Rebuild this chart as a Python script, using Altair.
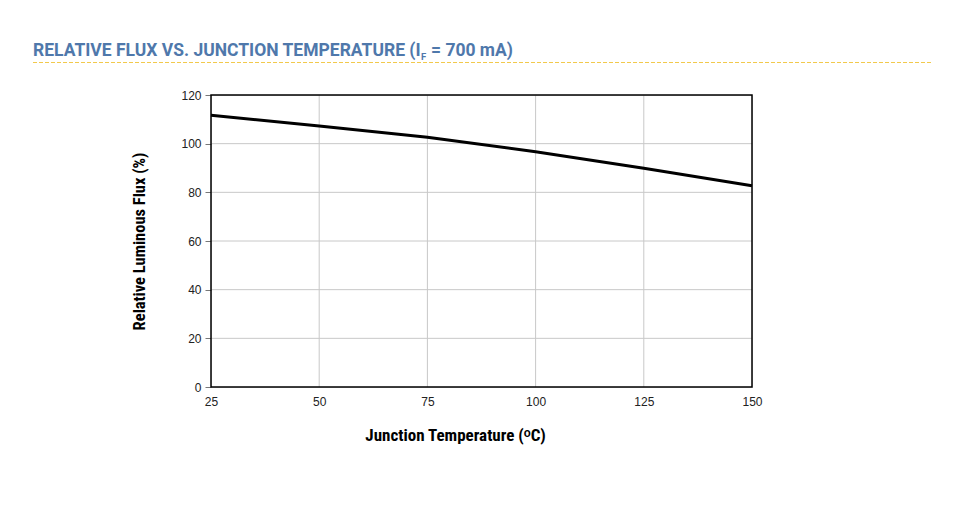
import altair as alt
import pandas as pd

temps = [25, 50, 75, 100, 125, 150]
flux = [111.7, 107.3, 102.6, 96.7, 89.9, 82.7]

x_ticks = [25, 50, 75, 100, 125, 150]
y_ticks = [0, 20, 40, 60, 80, 100, 120]
x_grid = [50, 75, 100, 125]
y_grid = [20, 40, 60, 80, 100]

title_main = "RELATIVE FLUX VS. JUNCTION TEMPERATURE (I"
title_sub = "F"
title_rest = "= 700 mA)"
x_title = "Junction Temperature (\u1d52C)"
y_title = "Relative Luminous Flux (%)"

df = pd.DataFrame({"temp": temps, "flux": flux})

W, H = 541, 292
LABEL_FONT = "Liberation Sans"
TITLE_FONT = "Liberation Sans Narrow, Roboto Condensed, Liberation Sans"
TITLE_COLOR = "#4f78ab"

xscale = alt.Scale(domain=[25, 150], nice=False, zero=False)
yscale = alt.Scale(domain=[0, 120], nice=False)

line = alt.Chart(df).mark_line(color="black", strokeWidth=3).encode(
    x=alt.X("temp:Q", scale=xscale,
            axis=alt.Axis(values=x_ticks, title=x_title, grid=False, ticks=False,
                          labelFontSize=12, labelFont=LABEL_FONT, labelColor="#222",
                          labelPadding=9, labelFlush=False, titleFont=TITLE_FONT,
                          titleFontSize=17, titleFontWeight="bold", titleColor="black",
                          titlePadding=20, titleX=244, titleAlign="center",
                          domain=False)),
    y=alt.Y("flux:Q", scale=yscale,
            axis=alt.Axis(values=y_ticks, title=y_title, grid=False, tickSize=6,
                          tickColor="#777", labelFontSize=12, labelFont=LABEL_FONT,
                          labelColor="#222", labelPadding=4, labelFlush=False,
                          titleFont=TITLE_FONT, titleFontSize=16.5, titleFontWeight="bold",
                          titleColor="black", titlePadding=33, domain=False)),
)

vgrid = alt.Chart(pd.DataFrame({"g": x_grid})).mark_rule(
    color="#c8c8c8", strokeWidth=1
).encode(x=alt.X("g:Q", scale=xscale))

hgrid = alt.Chart(pd.DataFrame({"g": y_grid})).mark_rule(
    color="#c8c8c8", strokeWidth=1
).encode(y=alt.Y("g:Q", scale=yscale))

frame = alt.Chart(pd.DataFrame({"a": [0]})).mark_rect(
    fill=None, fillOpacity=0, stroke="black", strokeWidth=1.5
).encode(x=alt.value(0), x2=alt.value(W), y=alt.value(0), y2=alt.value(H))

t_main = alt.Chart(pd.DataFrame({"t": [title_main]})).mark_text(
    align="left", baseline="alphabetic", font="Roboto", fontWeight="bold",
    fontSize=17.5, color=TITLE_COLOR
).encode(text="t:N", x=alt.value(33 - 211), y=alt.value(56 - 95))

t_sub = alt.Chart(pd.DataFrame({"t": [title_sub]})).mark_text(
    align="left", baseline="alphabetic", font="Roboto", fontWeight="bold",
    fontSize=9.5, color=TITLE_COLOR
).encode(text="t:N", x=alt.value(421 - 211), y=alt.value(60 - 95))

t_rest = alt.Chart(pd.DataFrame({"t": [title_rest]})).mark_text(
    align="left", baseline="alphabetic", font="Roboto", fontWeight="bold",
    fontSize=17.5, color=TITLE_COLOR
).encode(text="t:N", x=alt.value(431 - 211), y=alt.value(56 - 95))

dash = alt.Chart(pd.DataFrame({"a": [0]})).mark_rule(
    color="#f2c94c", strokeWidth=1.2, strokeDash=[4, 2]
).encode(x=alt.value(33 - 211), x2=alt.value(932 - 211), y=alt.value(62.5 - 95))

chart = alt.layer(vgrid, hgrid, line, frame, t_main, t_sub, t_rest, dash).properties(
    width=W, height=H,
    padding={"left": 203, "top": 87, "right": 200, "bottom": 120},
    autosize=alt.AutoSizeParams(type="none"),
).configure_view(stroke=None).configure(background="white")

chart.save("out.html", embed_options={"renderer": "svg", "actions": False})
